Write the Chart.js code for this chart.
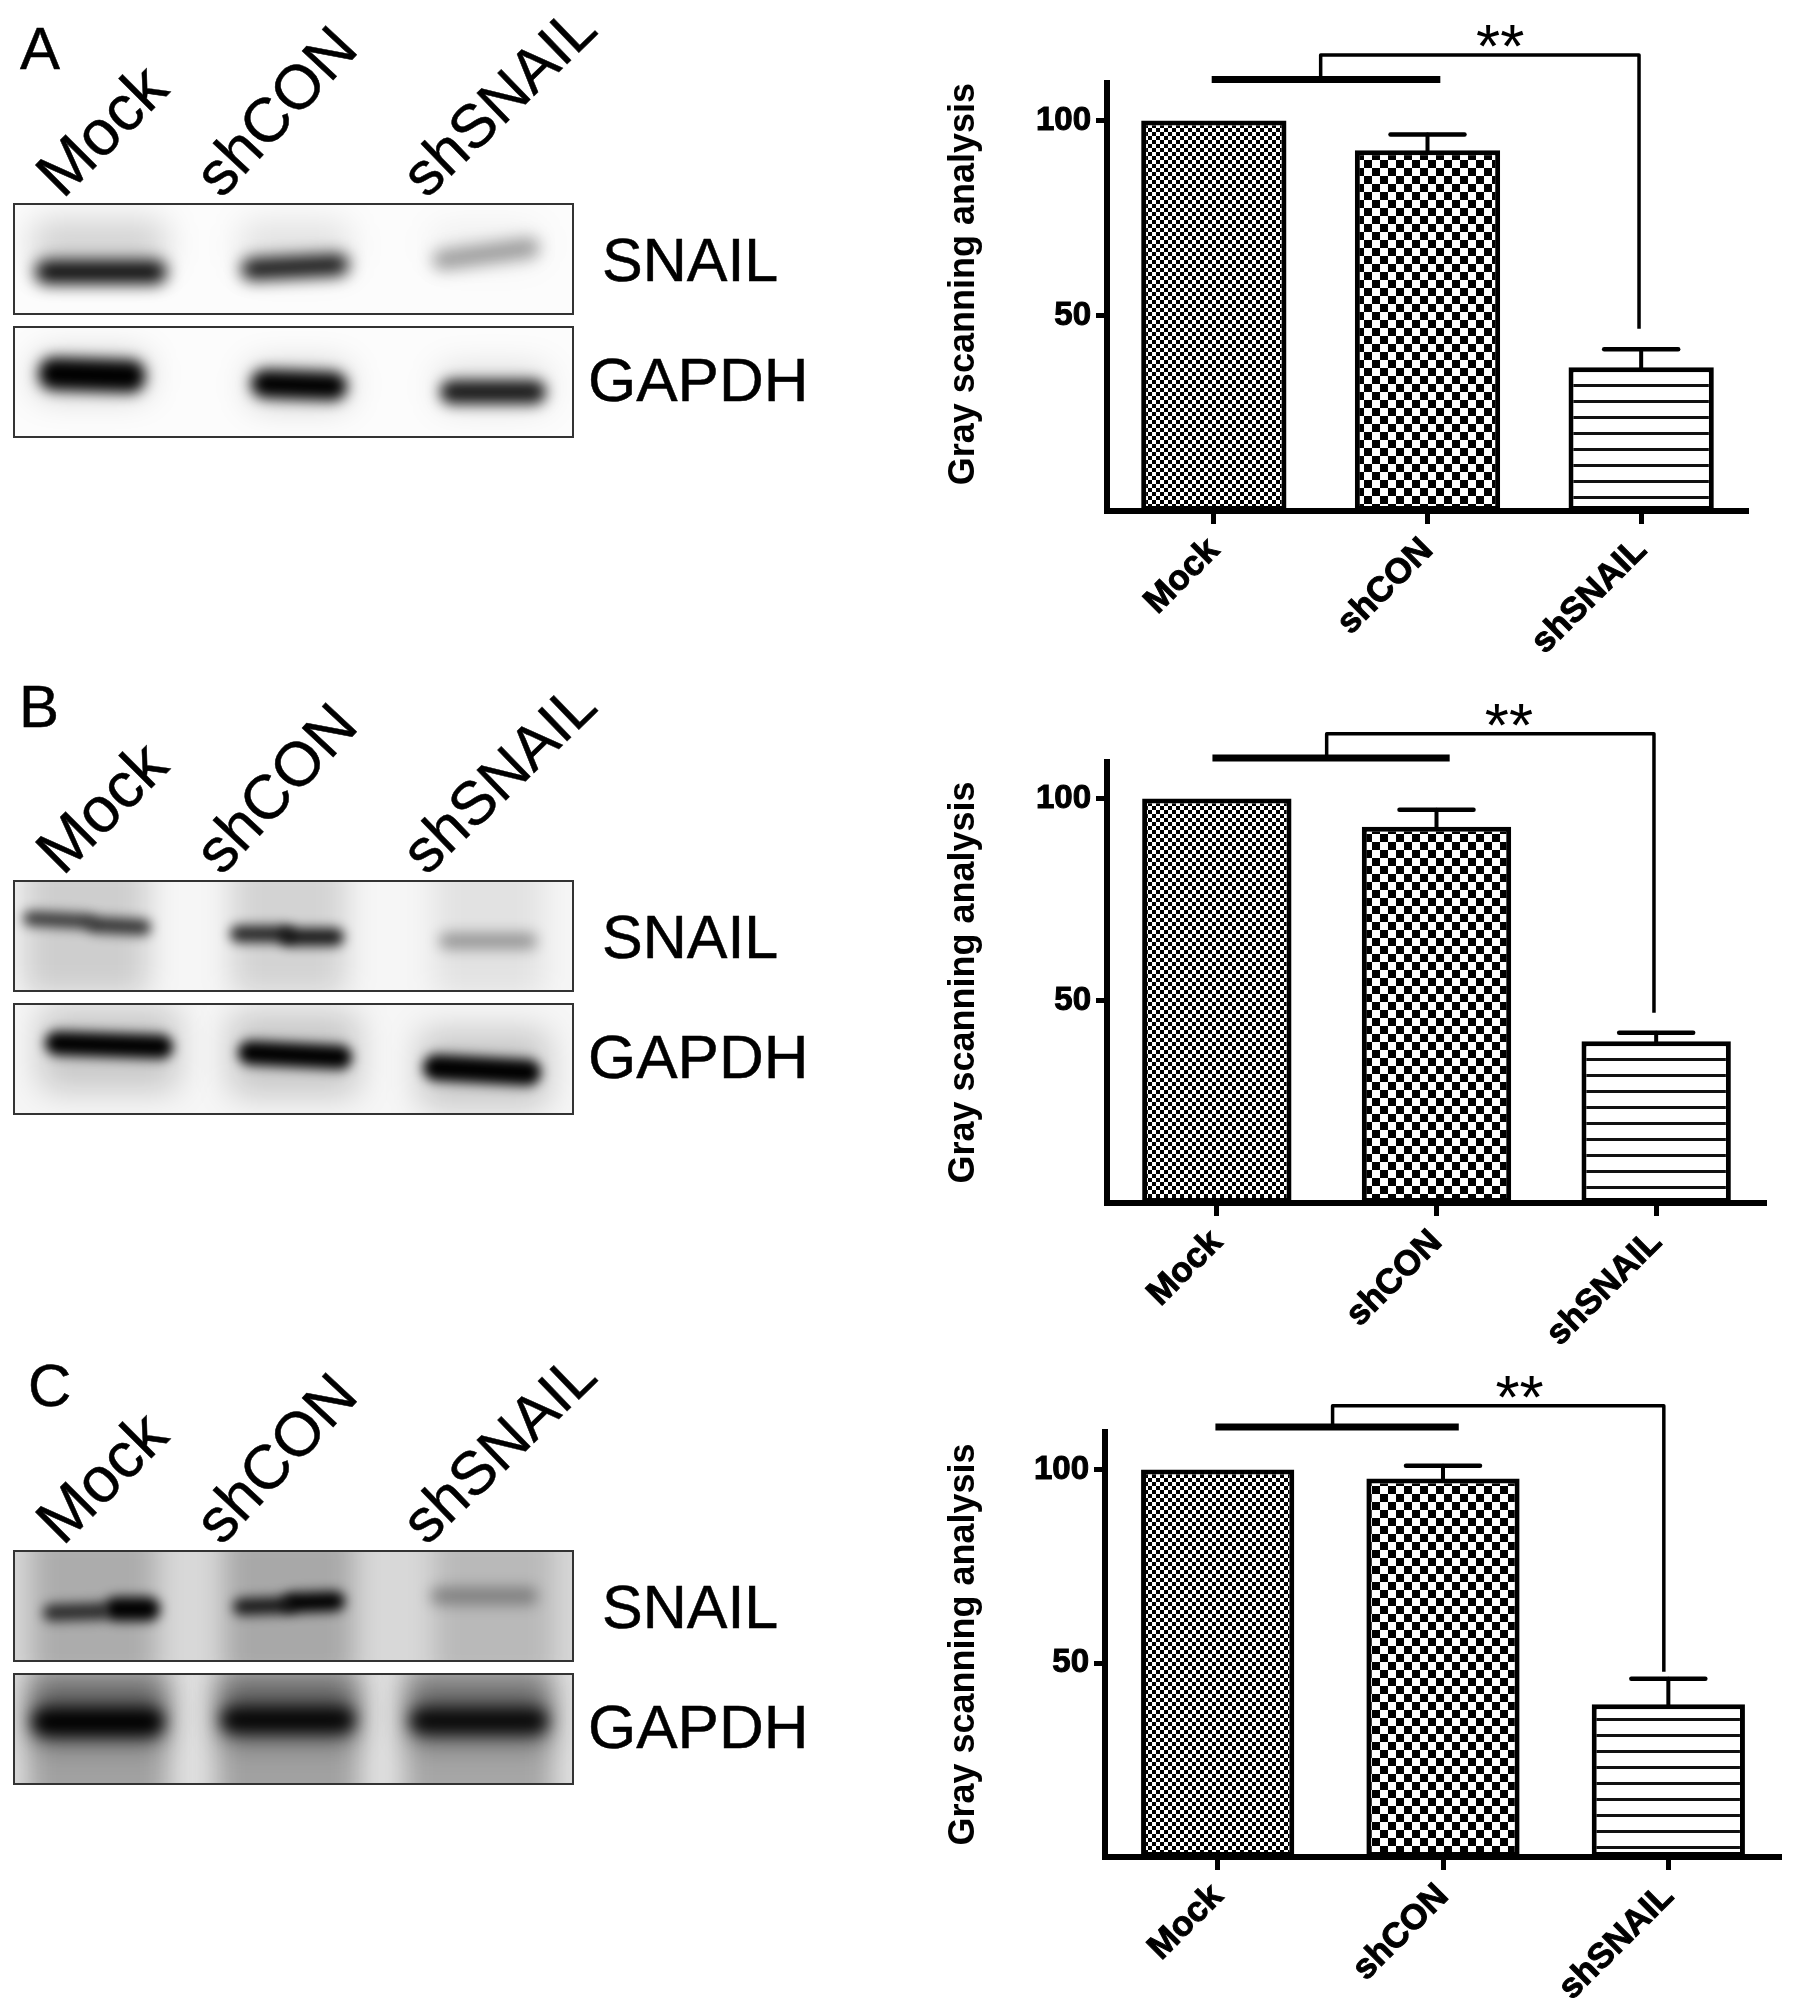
<!DOCTYPE html>
<html>
<head>
<meta charset="utf-8">
<title>SNAIL knockdown</title>
<script src="https://cdn.jsdelivr.net/npm/chart.js@4"></script>
<style>
  html, body { margin: 0; padding: 0; background: #fff; }
  #page { position: relative; width: 1795px; height: 2009px; overflow: hidden; font-family: "Liberation Sans", Arial, sans-serif; color: #000; }
  canvas { position: absolute; }
  .txt { position: absolute; white-space: nowrap; line-height: normal; transform-origin: 0 0.905em; -webkit-text-stroke: 0.5px #000; }
</style>
</head>
<body>
<div id="page">
  <canvas id="blots" width="600" height="2009" style="left:0;top:0"></canvas>
  <canvas id="chartA" width="895" height="680" style="left:900px;top:0"></canvas>
  <canvas id="chartB" width="895" height="665" style="left:900px;top:690px"></canvas>
  <canvas id="chartC" width="895" height="659" style="left:900px;top:1350px"></canvas>
</div>
<script>
const categories = ["Mock", "shCON", "shSNAIL"];
const yTicks = [50, 100];
const yTitle = "Gray scanning analysis";

const valuesA = [100, 92.4, 36.8];
const errorsA = [0, 4, 4.6];
const valuesB = [100, 93, 40];
const errorsB = [0, 4.2, 2.1];
const valuesC = [100, 97.7, 39.4];
const errorsC = [0, 3.3, 6.6];

const FONT = '"Liberation Sans", Arial, sans-serif';

// fill patterns for the three bars
function checker(cell) {
  const c = document.createElement("canvas");
  c.width = c.height = cell * 2;
  const g = c.getContext("2d");
  g.fillStyle = "#fff";
  g.fillRect(0, 0, cell * 2, cell * 2);
  g.fillStyle = "#000";
  g.fillRect(0, 0, cell, cell);
  g.fillRect(cell, cell, cell, cell);
  return g.createPattern(c, "repeat");
}
function stripes(period) {
  const c = document.createElement("canvas");
  c.width = 4;
  c.height = period;
  const g = c.getContext("2d");
  g.fillStyle = "#fff";
  g.fillRect(0, 0, 4, period);
  g.fillStyle = "#111";
  g.fillRect(0, 0, 4, 3);
  return g.createPattern(c, "repeat");
}

// error bars and the significance bracket, placed through the scales
const marks = {
  id: "marks",
  afterDatasetsDraw(chart, args, opts) {
    const { ctx, scales: { x, y } } = chart;
    ctx.save();
    ctx.strokeStyle = "#000";
    ctx.lineCap = "round";
    const errs = opts.errors;
    const vals = chart.data.datasets[0].data;
    errs.forEach((e, i) => {
      if (!e) return;
      const px = x.getPixelForValue(i);
      ctx.lineWidth = 4;
      ctx.beginPath();
      ctx.moveTo(px, y.getPixelForValue(vals[i]));
      ctx.lineTo(px, y.getPixelForValue(vals[i] + e));
      ctx.stroke();
      ctx.lineWidth = 4.5;
      ctx.beginPath();
      ctx.moveTo(px - opts.cap, y.getPixelForValue(vals[i] + e));
      ctx.lineTo(px + opts.cap, y.getPixelForValue(vals[i] + e));
      ctx.stroke();
    });
    const b = opts.bracket;
    ctx.lineCap = "butt";
    ctx.lineWidth = 7;
    ctx.beginPath();
    ctx.moveTo(x.getPixelForValue(b.barFrom), y.getPixelForValue(b.barY));
    ctx.lineTo(x.getPixelForValue(b.barTo), y.getPixelForValue(b.barY));
    ctx.stroke();
    ctx.lineWidth = 3.5;
    ctx.lineJoin = "round";
    ctx.beginPath();
    ctx.moveTo(x.getPixelForValue(b.mid), y.getPixelForValue(b.barY));
    ctx.lineTo(x.getPixelForValue(b.mid), y.getPixelForValue(b.topY));
    ctx.lineTo(x.getPixelForValue(b.right), y.getPixelForValue(b.topY));
    ctx.lineTo(x.getPixelForValue(b.right), y.getPixelForValue(b.endY));
    ctx.stroke();
    ctx.fillStyle = "#000";
    ctx.font = "62px " + FONT;
    ctx.textAlign = "center";
    ctx.textBaseline = "alphabetic";
    ctx.fillText("**", x.getPixelForValue(b.star), y.getPixelForValue(b.topY) + 12);
    ctx.restore();
  }
};

function makeChart(id, top, values, errors, box, bracket, titleAlign) {
  const canvas = document.getElementById(id);
  const left = 900;
  const titleLeft = 938;
  new Chart(canvas, {
    type: "bar",
    data: {
      labels: categories,
      datasets: [{
        data: values,
        backgroundColor: [checker(4), checker(8), stripes(16.5)],
        borderColor: "#000",
        borderWidth: 5,
        borderSkipped: false,
        barPercentage: box.bar,
        categoryPercentage: 1
      }]
    },
    plugins: [marks],
    options: {
      responsive: false,
      animation: false,
      layout: {
        padding: {
          left: titleLeft - left,
          top: box.top - top,
          right: left + canvas.width - box.right,
          bottom: 0
        }
      },
      plugins: {
        legend: { display: false },
        tooltip: { enabled: false },
        title: { display: false },
        marks: { errors: errors, bracket: bracket, cap: box.cap }
      },
      scales: {
        x: {
          grid: { display: true, drawOnChartArea: false, tickLength: 13, tickWidth: 5, tickColor: "#000", offset: false },
          border: { display: true, color: "#000", width: 6 },
          ticks: {
            color: "#000",
            font: { family: FONT, size: 35, weight: "bold" },
            textStrokeColor: "#000",
            textStrokeWidth: 1,
            minRotation: 45,
            maxRotation: 45,
            autoSkip: false,
            padding: 6
          },
          afterFit: s => { s.height = top + canvas.height - box.bottom; }
        },
        y: {
          min: 0,
          max: box.max,
          afterBuildTicks: s => { s.ticks = yTicks.map(v => ({ value: v })); },
          grid: { display: true, drawOnChartArea: false, tickLength: 11, tickWidth: 5, tickColor: "#000" },
          border: { display: true, color: "#000", width: 6 },
          ticks: {
            color: "#000",
            font: { family: FONT, size: 33, weight: "bold" },
            textStrokeColor: "#000",
            textStrokeWidth: 1,
            padding: 5
          },
          title: {
            display: true,
            text: yTitle,
            color: "#000",
            align: titleAlign,
            font: { family: FONT, size: 36, weight: "bold" }
          },
          afterFit: s => { s.width = box.left - titleLeft; }
        }
      }
    }
  });
}

makeChart("chartA", 0, valuesA, errorsA,
  { left: 1107, right: 1748, top: 83, bottom: 511, max: 109.6, bar: 0.68, cap: 37 },
  { barFrom: -0.01, barTo: 1.06, barY: 110.5, mid: 0.5, topY: 116.8, right: 1.99, endY: 46.7, star: 1.34 }, "end");
makeChart("chartB", 690, valuesB, errorsB,
  { left: 1107, right: 1766, top: 762, bottom: 1203, max: 109, bar: 0.68, cap: 37 },
  { barFrom: -0.02, barTo: 1.06, barY: 110, mid: 0.5, topY: 116, right: 1.99, endY: 47, star: 1.33 }, "center");
makeChart("chartC", 1350, valuesC, errorsC,
  { left: 1105, right: 1781, top: 1432, bottom: 1857, max: 109.7, bar: 0.68, cap: 37 },
  { barFrom: -0.01, barTo: 1.07, barY: 111, mid: 0.51, topY: 116.5, right: 1.98, endY: 47.8, star: 1.34 }, "center");

// western blot strips on the left: [cx, cy, w, h, tilt, alpha, blur] relative to the strip
const HAZE = 16;
const blotStrips = [
  { y: 204, bg: "#fcfcfc", blobs: [
    [85, 40, 135, 50, 0, .16, HAZE], [281, 42, 110, 50, 0, .1, HAZE], [472, 40, 110, 40, 0, .05, HAZE],
    [87, 68, 132, 24, 0, .95, 8], [281, 63, 108, 22, -3, .9, 8], [472, 50, 108, 20, -8, .36, 8]] },
  { y: 327, bg: "#fcfcfc", blobs: [
    [78, 48, 112, 42, 0, .2, HAZE], [285, 58, 100, 42, 0, .18, HAZE], [479, 60, 110, 42, 0, .12, HAZE],
    [78, 48, 106, 32, 2, 1, 7], [285, 58, 96, 28, 2, 1, 7], [479, 65, 106, 24, 0, .88, 7]] },
  { y: 881, bg: "#f6f6f6", blobs: [
    [72, 45, 125, 140, 0, .16, 15], [275, 45, 115, 140, 0, .14, 15], [475, 45, 110, 140, 0, .08, 15],
    [45, 39, 72, 15, 3, .72, 6], [105, 45, 64, 16, 3, .75, 6],
    [248, 53, 64, 17, 0, .82, 6], [298, 56, 64, 18, 0, .88, 6], [474, 60, 98, 16, 0, .34, 7]] },
  { y: 1004, bg: "#f6f6f6", blobs: [
    [95, 45, 140, 85, 0, .18, HAZE], [280, 50, 130, 85, 0, .18, HAZE], [470, 65, 130, 80, 0, .18, HAZE],
    [95, 41, 128, 24, 2, 1, 6], [281, 51, 114, 24, 3, 1, 6], [468, 66, 118, 26, 3, 1, 6]] },
  { y: 1551, bg: "#d8d8d8", blobs: [
    [80, 55, 125, 150, 0, .2, 13], [275, 55, 130, 150, 0, .22, 13], [480, 55, 120, 150, 0, .14, 13],
    [62, 61, 66, 17, -2, .75, 6], [118, 58, 56, 24, 0, 1, 6],
    [250, 55, 62, 17, -2, .85, 6], [300, 51, 62, 20, -2, 1, 6], [470, 45, 108, 18, 0, .3, 7]] },
  { y: 1674, bg: "#e0e0e0", blobs: [
    [84, 60, 140, 150, 0, .28, 13], [274, 60, 142, 150, 0, .28, 13], [465, 60, 148, 150, 0, .26, 13],
    [84, 40, 136, 60, 0, .42, 14], [274, 38, 138, 60, 0, .42, 14], [465, 40, 142, 60, 0, .4, 14],
    [84, 48, 132, 28, 0, 1, 8], [274, 46, 134, 26, 0, .95, 8], [465, 47, 138, 26, 0, .92, 8]] }
];

const g = document.getElementById("blots").getContext("2d");
blotStrips.forEach(s => {
  g.save();
  g.beginPath();
  g.rect(14, s.y, 559, 110);
  g.clip();
  g.fillStyle = s.bg;
  g.fillRect(14, s.y, 559, 110);
  s.blobs.forEach(([cx, cy, w, h, tilt, a, blur]) => {
    g.save();
    g.filter = "blur(" + blur + "px)";
    g.translate(14 + cx, s.y + cy);
    g.rotate(tilt * Math.PI / 180);
    g.fillStyle = "rgba(0,0,0," + a + ")";
    g.beginPath();
    g.roundRect(-w / 2, -h / 2, w, h, Math.min(h / 2, 14));
    g.fill();
    g.restore();
  });
  g.restore();
  g.strokeStyle = "#333";
  g.lineWidth = 2;
  g.strokeRect(14, s.y, 559, 110);
});

// panel letters and the blot labels
const page = document.getElementById("page");
function addText(str, x, y, size, angle) {
  const el = document.createElement("div");
  el.className = "txt";
  el.textContent = str;
  el.style.left = x + "px";
  el.style.top = (y - size * 0.905) + "px";
  el.style.fontSize = size + "px";
  if (angle) el.style.transform = "rotate(" + angle + "deg)";
  page.appendChild(el);
}
const rowTops = [204, 881, 1551];
const rowLetters = ["A", "B", "C"];
const letterPos = [[20, 68], [19, 726], [28, 1405]];
rowTops.forEach((top, r) => {
  addText(rowLetters[r], letterPos[r][0], letterPos[r][1], 60);
  addText("Mock", 62, top - 5, 64, -45);
  addText("shCON", 221, top - 5, 62, -47);
  addText("shSNAIL", 426, top - 5, 61, -44);
  addText("SNAIL", 602, top + 76, 61);
  addText("GAPDH", 588, top + 196, 62);
});
</script>
</body>
</html>
